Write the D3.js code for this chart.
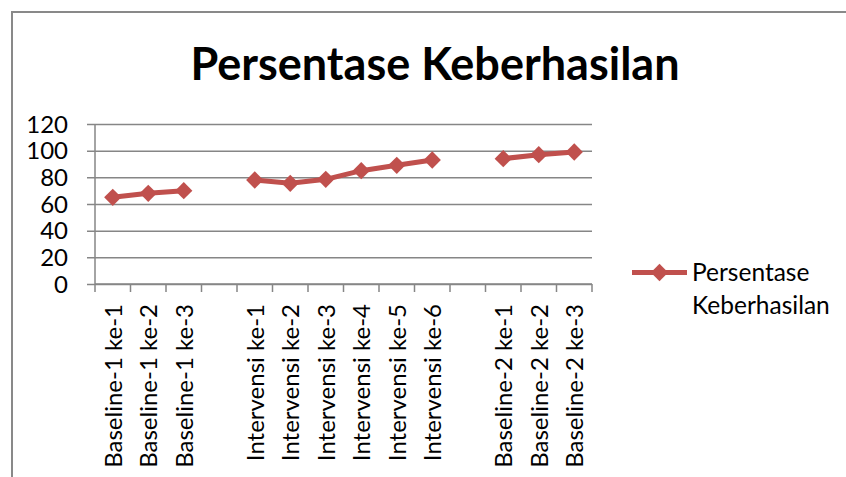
<!DOCTYPE html>
<head>
<meta charset="utf-8">
<script src="https://d3js.org/d3.v7.min.js"></script>
<style>
body {
	margin: 0;
	background: #fff;
}
svg text {
	font-family: Lato, "Open Sans", sans-serif;
	fill: #000;
}
.grid line {
	stroke: #868686;
	stroke-width: 1.5px;
}
.grid path {
	display: none;
}
</style>
</head>
<body>
<svg id="chart" width="846" height="477"></svg>

<script>

// categories, blanks mark the gaps between phases
var categories = ["Baseline-1 ke-1", "Baseline-1 ke-2", "Baseline-1 ke-3", "",
	"Intervensi ke-1", "Intervensi ke-2", "Intervensi ke-3", "Intervensi ke-4", "Intervensi ke-5", "Intervensi ke-6", " ",
	"Baseline-2 ke-1", "Baseline-2 ke-2", "Baseline-2 ke-3"];
var values = [65, 68, 70, null, 78, 75.5, 78.5, 85, 89, 93, null, 94, 97, 99];
var yTicks = [0, 20, 40, 60, 80, 100, 120];
var seriesName = "Persentase Keberhasilan";
var titleText = "Persentase Keberhasilan";

var color = "#C0504D";

var svg = d3.select("#chart");

// chart frame (only top and left visible in crop)
svg.append("path")
	.attr("d", "M12,480 L12,12 L850,12")
	.attr("fill", "none")
	.attr("stroke", "#898989")
	.attr("stroke-width", 2);

var margin = {left: 95, right: 592, top: 124, bottom: 284};

var x = d3.scaleBand()
	.domain(categories)
	.range([margin.left, margin.right])
	.padding(0);

var y = d3.scaleLinear()
	.domain([0, 120])
	.range([margin.bottom, margin.top]);

// title
svg.append("text")
	.attr("x", 435)
	.attr("y", 80)
	.attr("text-anchor", "middle")
	.style("font-weight", "bold")
	.style("font-size", "45px")
	.text(titleText);

// gridlines + y axis
var grid = svg.append("g")
	.attr("class", "grid")
	.attr("transform", "translate(" + margin.left + ",0)")
	.call(d3.axisLeft(y).tickValues(yTicks)
		.tickSize(-(margin.right - margin.left))
		.tickFormat(""));

grid.selectAll(".tick line").attr("x1", -8);

svg.append("line")
	.attr("x1", margin.left).attr("x2", margin.left)
	.attr("y1", margin.top).attr("y2", margin.bottom)
	.attr("stroke", "#868686")
	.attr("stroke-width", 1.5);

svg.selectAll(".ylab")
	.data(yTicks)
	.enter().append("text")
	.attr("class", "ylab")
	.attr("x", 68)
	.attr("y", d => y(d))
	.attr("dy", "0.36em")
	.attr("text-anchor", "end")
	.style("font-size", "24px")
	.text(d => d);

// x axis with ticks at category boundaries
var bounds = categories.map(c => x(c)).concat([margin.right]);
svg.append("line")
	.attr("x1", margin.left).attr("x2", margin.right)
	.attr("y1", margin.bottom).attr("y2", margin.bottom)
	.attr("stroke", "#868686")
	.attr("stroke-width", 1.5);

svg.selectAll(".xtick")
	.data(bounds)
	.enter().append("line")
	.attr("x1", d => d).attr("x2", d => d)
	.attr("y1", margin.bottom).attr("y2", margin.bottom + 8)
	.attr("stroke", "#868686")
	.attr("stroke-width", 1.5);

svg.selectAll(".xlab")
	.data(categories.filter(c => c.trim() != ""))
	.enter().append("text")
	.attr("class", "xlab")
	.attr("transform", d => "translate(" + (x(d) + x.bandwidth() / 2 + 9) + "," + 304 + ") rotate(-90)")
	.attr("text-anchor", "end")
	.style("font-size", "24px")
	.text(d => d);

// series
var pts = categories.map((c, i) => ({cat: c, v: values[i]}));

var line = d3.line()
	.defined(d => d.v != null)
	.x(d => x(d.cat) + x.bandwidth() / 2)
	.y(d => y(d.v));

svg.append("path")
	.datum(pts)
	.attr("fill", "none")
	.attr("stroke", color)
	.attr("stroke-width", 5)
	.attr("stroke-linejoin", "round")
	.attr("d", line);

var diamond = d3.symbol().type(d3.symbolDiamond2).size(190);

svg.selectAll(".marker")
	.data(pts.filter(d => d.v != null))
	.enter().append("path")
	.attr("class", "marker")
	.attr("transform", d => "translate(" + (x(d.cat) + x.bandwidth() / 2) + "," + y(d.v) + ")")
	.attr("d", diamond)
	.attr("fill", color);

// legend
var lg = svg.append("g").attr("transform", "translate(632,272.5)");
lg.append("line")
	.attr("x1", 0).attr("x2", 55)
	.attr("stroke", color)
	.attr("stroke-width", 5);
lg.append("path")
	.attr("transform", "translate(27.5,0)")
	.attr("d", diamond)
	.attr("fill", color);
var words = seriesName.split(" ");
lg.selectAll(".lgtext")
	.data(words)
	.enter().append("text")
	.attr("x", 60)
	.attr("y", (d, i) => 8 + i * 33)
	.style("font-size", "24.5px")
	.text(d => d);

</script>
</body>
